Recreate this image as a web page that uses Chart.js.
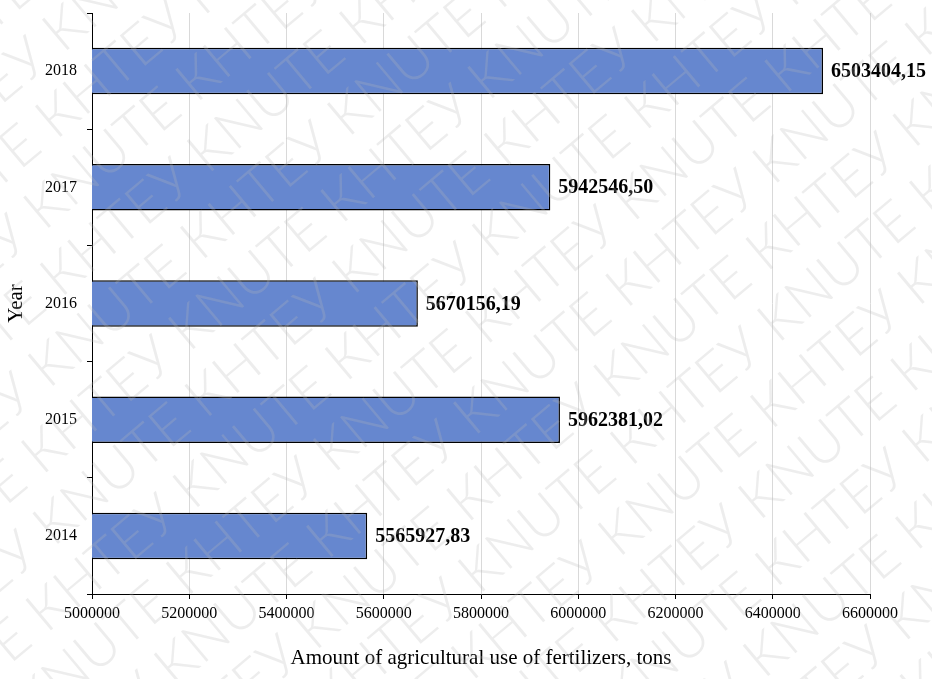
<!DOCTYPE html>
<html>
<head>
<meta charset="utf-8">
<title>Fertilizer use</title>
<script src="https://cdn.jsdelivr.net/npm/chart.js@4"></script>
<style>
    html, body { margin: 0; padding: 0; background: #fff; }
    #wrap { width: 932px; height: 679px; }
</style>
</head>
<body>
<div id="wrap"><canvas id="fertChart" width="932" height="679"></canvas></div>
<script>
// data
const years = ['2018', '2017', '2016', '2015', '2014'];
const fertilizerTons = [6503404.15, 5942546.50, 5670156.19, 5962381.02, 5565927.83];
const xMin = 5000000;
const xMax = 6600000;
const xStep = 200000;

const serif = "'Liberation Serif', 'Times New Roman', serif";

// value labels at the end of each bar, e.g. 6503404,15
const barValueLabels = {
    id: 'barValueLabels',
    afterDatasetsDraw(chart) {
        const ctx = chart.ctx;
        const meta = chart.getDatasetMeta(0);
        ctx.save();
        ctx.font = 'bold 20px ' + serif;
        ctx.fillStyle = '#000';
        ctx.textAlign = 'left';
        ctx.textBaseline = 'middle';
        meta.data.forEach((bar, i) => {
            const txt = fertilizerTons[i].toFixed(2).replace('.', ',');
            ctx.fillText(txt, bar.x + 8, bar.y + 1);
        });
        ctx.restore();
    }
};

// faint diagonal watermark over the whole picture
const watermark = {
    id: 'watermark',
    afterDraw(chart) {
        const ctx = chart.ctx;
        const w = chart.width, h = chart.height;
        ctx.save();
        ctx.font = '300 56px Lato, "Open Sans", sans-serif';
        ctx.fillStyle = 'rgba(185, 185, 185, 0.25)';
        ctx.textBaseline = 'middle';
        ctx.translate(w / 2, h / 2);
        ctx.rotate(-40 * Math.PI / 180);
        const line = 'KNUTE КНТЕУ KNUTE КНТЕУ KNUTE КНТЕУ KNUTE КНТЕУ KNUTE КНТЕУ';
        const lineW = ctx.measureText(line).width;
        for (let r = -10; r <= 10; r++) {
            const shift = (r * 131) % 360;
            ctx.fillText(line, -lineW / 2 + shift, r * 62);
        }
        ctx.restore();
    }
};

const ctx = document.getElementById('fertChart').getContext('2d');
const fertChart = new Chart(ctx, {
    type: 'bar',
    data: {
        labels: years,
        datasets: [{
            data: fertilizerTons,
            backgroundColor: '#6687cf',
            borderColor: '#000',
            borderWidth: 1.5,
            borderSkipped: false,
            barPercentage: 0.4,
            categoryPercentage: 1
        }]
    },
    options: {
        indexAxis: 'y',
        responsive: false,
        animation: false,
        layout: { padding: { left: 0, right: 62, top: 13, bottom: 4 } },
        plugins: {
            legend: { display: false },
            tooltip: { enabled: false }
        },
        scales: {
            x: {
                min: xMin,
                max: xMax,
                ticks: {
                    stepSize: xStep,
                    color: '#000',
                    padding: 5,
                    maxRotation: 0,
                    font: { family: serif, size: 16 },
                    callback: v => String(v)
                },
                grid: {
                    color: '#d9d9d9',
                    tickColor: '#000',
                    tickLength: 5
                },
                border: { color: '#000', width: 1 },
                title: {
                    display: true,
                    text: 'Amount of agricultural use of fertilizers, tons',
                    color: '#000',
                    font: { family: serif, size: 21 },
                    padding: { top: 4, bottom: 4 }
                },
                afterFit: scale => { scale.height = 81; }
            },
            y: {
                ticks: {
                    color: '#000',
                    padding: 10,
                    font: { family: serif, size: 16 }
                },
                grid: {
                    drawOnChartArea: false,
                    tickColor: '#000',
                    tickLength: 5
                },
                border: { color: '#000', width: 1 },
                title: {
                    display: true,
                    text: 'Year',
                    color: '#000',
                    font: { family: serif, size: 21 },
                    padding: { top: 4, bottom: 4 }
                },
                afterFit: scale => {
                    scale.width = 92;
                    scale.paddingTop = 0;
                    scale.paddingBottom = 0;
                }
            }
        }
    },
    plugins: [barValueLabels, watermark]
});
</script>
</body>
</html>
